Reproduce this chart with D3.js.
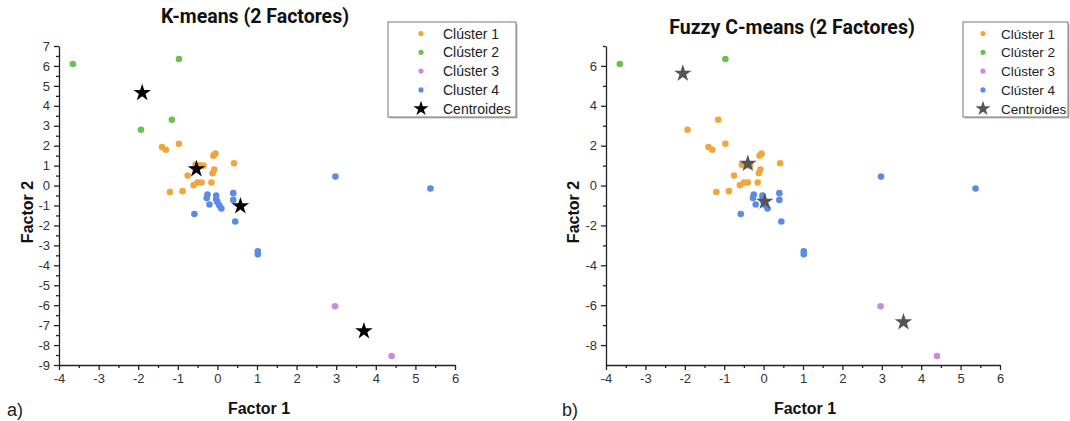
<!DOCTYPE html>
<html><head><meta charset="utf-8">
<script src="https://cdn.jsdelivr.net/npm/d3@7"></script>
<style>
body{margin:0;background:#fff;}
svg{display:block;}
</style></head>
<body>
<svg id="chart" width="1070" height="421"></svg>
<script>
// ---- Data ----
const xTicks = [-4,-3,-2,-1,0,1,2,3,4,5,6];
const yTicksA = [7,6,5,4,3,2,1,0,-1,-2,-3,-4,-5,-6,-7,-8,-9];
const yTicksB = [6,4,2,0,-2,-4,-6,-8];
const legendLabelsA = ["Clúster 1","Clúster 2","Clúster 3","Cluster 4","Centroides"];
const legendLabelsB = ["Clúster 1","Clúster 2","Clúster 3","Clúster 4","Centroides"];

// K-means clusters
const kmC1 = [[-1.4,1.93],[-1.3,1.8],[-0.97,2.1],[-0.05,1.6],[-0.1,1.5],[0.42,1.12],[-0.55,1.05],[-0.45,1.02],[-0.35,1.0],[-0.08,0.8],[-0.12,0.62],[-0.75,0.5],[-0.5,0.15],[-0.4,0.15],[-0.6,0.02],[-0.15,0.15],[-1.2,-0.32],[-0.88,-0.28]];
const kmC2 = [[-3.65,6.1],[-0.97,6.35],[-1.15,3.3],[-1.93,2.8]];
const kmC3 = [[2.97,-6.05],[4.4,-8.55]];
const kmC4 = [[-0.25,-0.45],[-0.27,-0.62],[-0.2,-0.95],[-0.03,-0.5],[-0.03,-0.7],[0.0,-0.82],[0.05,-1.0],[0.1,-1.15],[0.4,-0.38],[0.4,-0.72],[-0.58,-1.43],[0.45,-1.8],[1.02,-3.3],[1.02,-3.45],[2.98,0.45],[5.38,-0.15]];
const kmCentroids = [[-1.9,4.65],[-0.53,0.83],[0.58,-1.03],[3.7,-7.3]];

// Fuzzy C-means clusters
const fcC1 = kmC1.concat([[-1.15,3.3],[-1.93,2.8]]);
const fcC2 = [[-3.65,6.1],[-0.97,6.35]];
const fcC3 = kmC3;
const fcC4 = kmC4;
const fcCentroids = [[-2.05,5.62],[-0.4,1.1],[0.03,-0.8],[3.55,-6.85]];

const colors = ["#F0A63C","#6CC04F","#C98BDB","#5B8CE3"];

const svg = d3.select("#chart");
const font = "'Liberation Sans', Arial, sans-serif";

function panel(opt){
  const g = svg.append("g");
  const x = d3.scaleLinear().domain([-4,6]).range([opt.x0, opt.x1]);
  const y = d3.scaleLinear().domain([-9,7]).range([365,46]);

  const xMinor = d3.range(-3.5,6,1);
  const xAxis = d3.axisBottom(x).tickValues(xTicks).tickSize(5).tickSizeOuter(0).tickPadding(4);
  const gx = g.append("g").attr("transform",`translate(0,${y(-9)})`).call(xAxis);
  g.append("g").attr("transform",`translate(0,${y(-9)})`)
    .call(d3.axisBottom(x).tickValues(xMinor).tickFormat("").tickSize(3).tickSizeOuter(0))
    .select(".domain").remove();

  const yAxis = d3.axisLeft(y).tickValues(opt.yTicks).tickSize(5).tickSizeOuter(0).tickPadding(4);
  const gy = g.append("g").attr("transform",`translate(${opt.x0},0)`).call(yAxis);
  g.append("g").attr("transform",`translate(${opt.x0},0)`)
    .call(d3.axisLeft(y).tickValues(opt.yMinor).tickFormat("").tickSize(3).tickSizeOuter(0))
    .select(".domain").remove();

  g.selectAll(".domain").attr("stroke","#222").attr("stroke-width",1.3);
  g.selectAll(".tick line").attr("stroke","#222").attr("stroke-width",1.3);
  gx.selectAll(".tick text").text(d=>d<0?"-"+Math.abs(d):d);
  gy.selectAll(".tick text").text(d=>d<0?"-"+Math.abs(d):d);
  gx.selectAll("text").attr("font-family",font).attr("font-size",13).attr("fill","#333");
  gy.selectAll("text").attr("font-family",font).attr("font-size",13).attr("fill","#333");

  // points
  opt.clusters.forEach((pts,i)=>{
    g.append("g").selectAll("circle").data(pts).join("circle")
      .attr("cx",d=>x(d[0])).attr("cy",d=>y(d[1])).attr("r",3.3)
      .attr("fill",colors[i]);
  });
  const star = d3.symbol().type(d3.symbolStar).size(95);
  g.append("g").selectAll("path").data(opt.centroids).join("path")
    .attr("d",star).attr("transform",d=>`translate(${x(d[0])},${y(d[1])})`)
    .attr("fill",opt.starColor);

  // title & labels
  g.append("text").attr("x",opt.titleX).attr("y",opt.titleY).attr("text-anchor","middle")
    .attr("font-family","Roboto, 'Liberation Sans', sans-serif").attr("font-weight","bold").attr("font-size",19.5)
    .attr("fill","#111").text(opt.title);
  g.append("text").attr("x",(opt.x0+opt.x1)/2+2).attr("y",414).attr("text-anchor","middle")
    .attr("font-family",font).attr("font-weight","bold").attr("font-size",16)
    .attr("fill","#111").text("Factor 1");
  g.append("text").attr("transform",`translate(${opt.yLabelX},212) rotate(-90)`).attr("text-anchor","middle")
    .attr("font-family",font).attr("font-weight","bold").attr("font-size",16)
    .attr("fill","#111").text("Factor 2");
  g.append("text").attr("x",opt.letterX).attr("y",416)
    .attr("font-family",font).attr("font-size",18).attr("fill","#222").text(opt.letter);

  // legend
  const L = opt.legend;
  const lg = g.append("g");
  lg.append("rect").attr("x",L.x+1.5).attr("y",L.y+1.5).attr("width",L.w).attr("height",L.h).attr("fill","#bbb");
  lg.append("rect").attr("x",L.x).attr("y",L.y).attr("width",L.w).attr("height",L.h).attr("fill","#fff").attr("stroke","#777").attr("stroke-width",1);
  opt.legendLabels.forEach((lab,i)=>{
    const cy = L.y + 11.5 + i*18.8;
    if(i<4){
      lg.append("circle").attr("cx",L.x+L.mx).attr("cy",cy).attr("r",2.6).attr("fill",colors[i]);
    } else {
      lg.append("path").attr("d",d3.symbol().type(d3.symbolStar).size(70))
        .attr("transform",`translate(${L.x+L.mx},${cy})`).attr("fill",opt.starColor);
    }
    lg.append("text").attr("x",L.x+L.tx).attr("y",cy+5).attr("font-family",font).attr("font-size",L.fs)
      .attr("fill","#222").text(lab);
  });
}

panel({x0:59,x1:455,yTicks:yTicksA,yMinor:d3.range(-8.5,7,1),
  clusters:[kmC1,kmC2,kmC3,kmC4],centroids:kmCentroids,starColor:"#000",
  title:"K-means (2 Factores)",titleX:255,titleY:23,yLabelX:33,letter:"a)",letterX:7,
  legend:{x:388,y:22,w:128,h:95,mx:33,tx:55,fs:14},legendLabels:legendLabelsA});

panel({x0:606,x1:1000,yTicks:yTicksB,yMinor:[7,5,3,1,-1,-3,-5,-7],
  clusters:[fcC1,fcC2,fcC3,fcC4],centroids:fcCentroids,starColor:"#555",
  title:"Fuzzy C-means (2 Factores)",titleX:792,titleY:34,yLabelX:579,letter:"b)",letterX:562,
  legend:{x:963,y:22,w:105,h:95,mx:20,tx:38,fs:13.5},legendLabels:legendLabelsB});
</script>
</body></html>
